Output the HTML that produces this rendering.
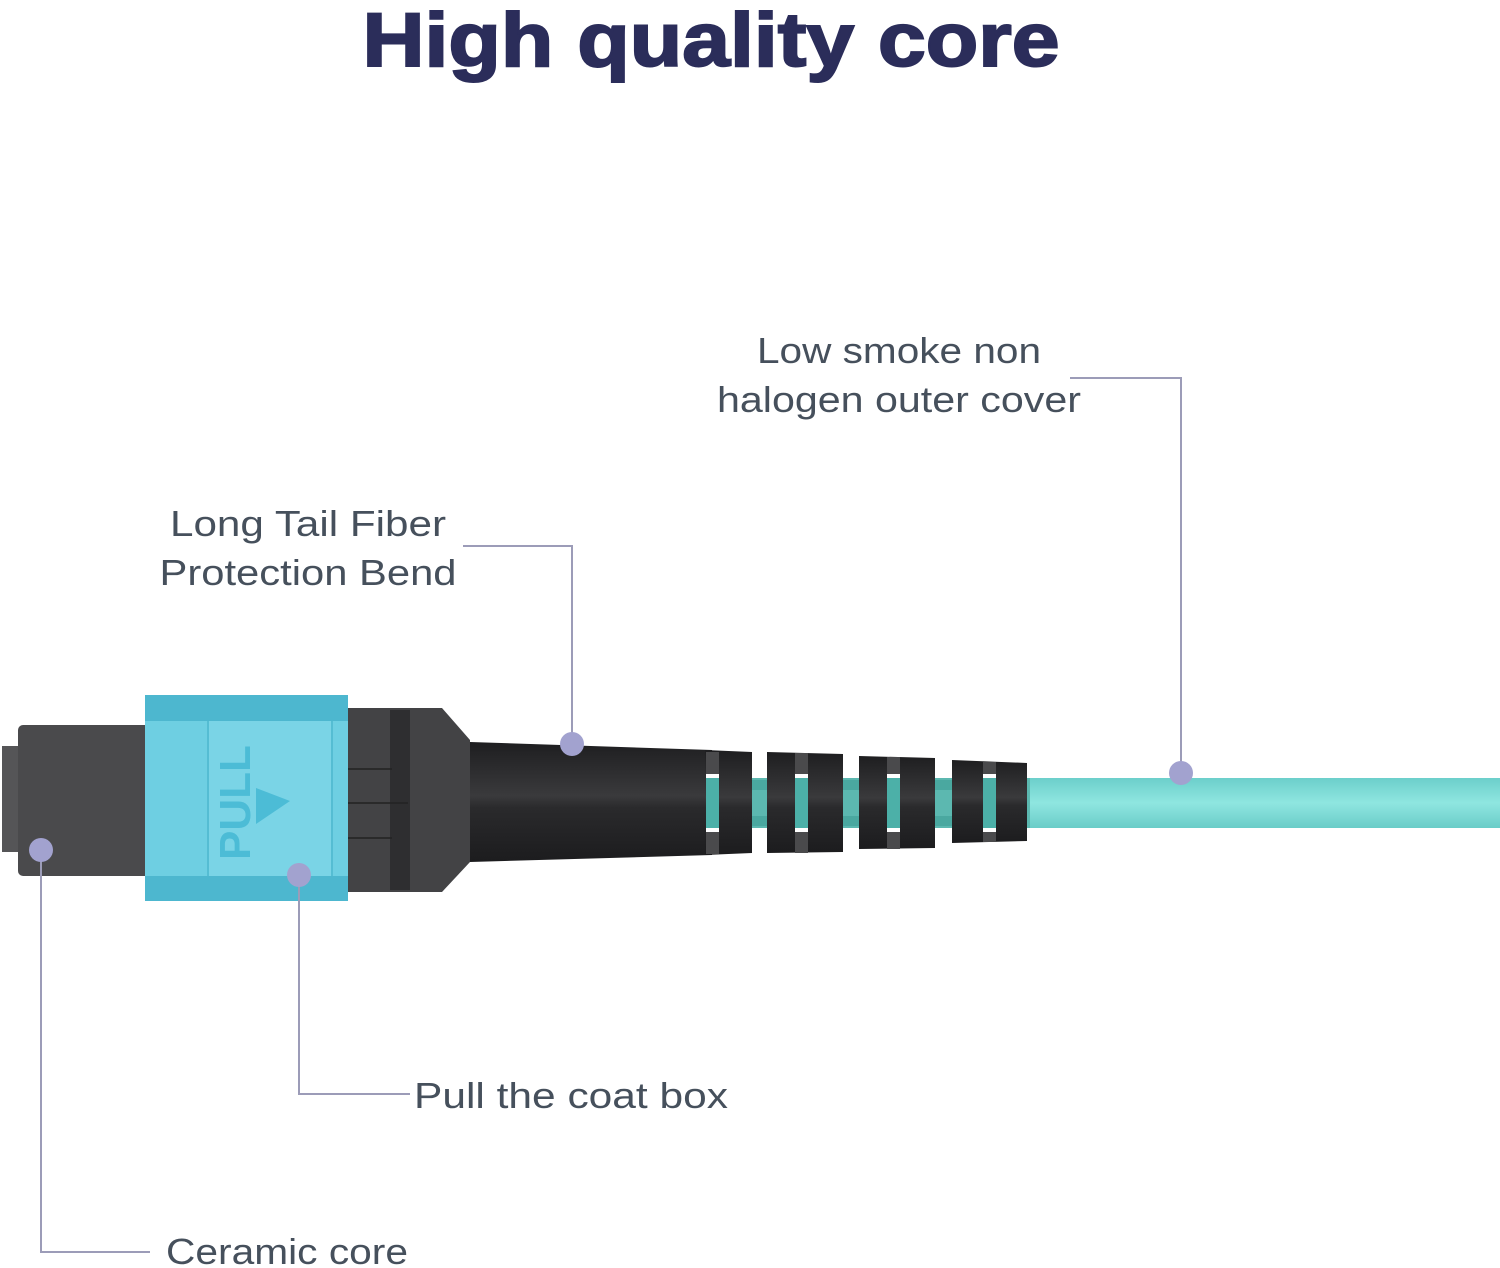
<!DOCTYPE html>
<html><head><meta charset="utf-8"><style>
html,body{margin:0;padding:0;background:#fff;}
svg{display:block;}
</style></head><body>
<svg width="1500" height="1268" viewBox="0 0 1500 1268" xmlns="http://www.w3.org/2000/svg">
<defs>
<linearGradient id="blk" x1="0" y1="0" x2="0" y2="1">
<stop offset="0" stop-color="#1e1e20"/><stop offset="0.45" stop-color="#3a3a3c"/><stop offset="0.55" stop-color="#2a2a2c"/><stop offset="1" stop-color="#1c1c1e"/>
</linearGradient>
<linearGradient id="cab" x1="0" y1="0" x2="0" y2="1">
<stop offset="0" stop-color="#6ccfcb"/><stop offset="0.5" stop-color="#8fe6e0"/><stop offset="1" stop-color="#6acdc8"/>
</linearGradient>
</defs>
<text x="711" y="66" text-anchor="middle" font-family="Liberation Sans, sans-serif" font-weight="900" font-size="76" fill="#2b2d5a" textLength="697" lengthAdjust="spacingAndGlyphs" stroke="#2b2d5a" stroke-width="2">High quality core</text>

<!-- cable -->
<rect x="1020" y="778" width="480" height="50" fill="url(#cab)"/>
<!-- boot inner cable -->
<rect x="700" y="778" width="330" height="50" fill="#5cb8b0"/>
<!-- boot main -->
<polygon points="470,742 712,750 712,855 470,862" fill="url(#blk)"/>
<polygon points="705,750 752,752 752,853 705,855" fill="url(#blk)"/>
<polygon points="767,752 843,754 843,852 767,853" fill="url(#blk)"/>
<polygon points="859,756 935,758 935,848 859,849" fill="url(#blk)"/>
<polygon points="952,760 1027,763 1027,841 952,843" fill="url(#blk)"/>
<rect x="752" y="780" width="15" height="10" fill="#4aa8a0"/><rect x="752" y="816" width="15" height="10" fill="#4aa8a0"/>
<rect x="843" y="780" width="16" height="10" fill="#4aa8a0"/><rect x="843" y="816" width="16" height="10" fill="#4aa8a0"/>
<rect x="935" y="780" width="17" height="10" fill="#4aa8a0"/><rect x="935" y="816" width="17" height="10" fill="#4aa8a0"/>
<g fill="#4a4a4c"><rect x="706" y="752" width="13" height="102"/><rect x="795" y="753" width="13" height="100"/><rect x="887" y="757" width="13" height="92"/><rect x="983" y="762" width="13" height="80"/></g>
<g fill="#4cb0a8"><rect x="706" y="778" width="13" height="50"/><rect x="795" y="778" width="13" height="50"/><rect x="887" y="778" width="13" height="50"/><rect x="983" y="778" width="13" height="50"/></g>
<g fill="#fff"><rect x="706" y="774" width="13" height="4"/><rect x="706" y="828" width="13" height="4"/><rect x="795" y="774" width="13" height="4"/><rect x="795" y="828" width="13" height="4"/><rect x="887" y="774" width="13" height="4"/><rect x="887" y="828" width="13" height="4"/><rect x="983" y="774" width="13" height="4"/><rect x="983" y="828" width="13" height="4"/></g>

<!-- rear housing -->
<path d="M348,708 L442,708 L470,740 L470,862 L442,892 L348,892 Z" fill="#434345"/>
<rect x="390" y="710" width="20" height="180" fill="#2e2e30"/>
<line x1="348" y1="769" x2="392" y2="769" stroke="#222" stroke-width="1.5"/>
<line x1="348" y1="803" x2="408" y2="803" stroke="#222" stroke-width="1.5"/>
<line x1="348" y1="838" x2="392" y2="838" stroke="#222" stroke-width="1.5"/>

<!-- front body -->
<rect x="2" y="746" width="20" height="106" fill="#555557"/>
<rect x="18" y="725" width="132" height="151" rx="5" fill="#4a4a4c"/>

<!-- blue sleeve -->
<rect x="145" y="695" width="203" height="206" fill="#6ecfe2"/>
<rect x="145" y="695" width="203" height="26" fill="#4db7cf"/>
<rect x="145" y="876" width="203" height="25" fill="#4db7cf"/>
<rect x="208" y="721" width="125" height="155" fill="#7ad4e6"/>
<line x1="208" y1="721" x2="208" y2="876" stroke="#55bdd3" stroke-width="2"/>
<line x1="332" y1="721" x2="332" y2="876" stroke="#55bdd3" stroke-width="2"/>
<text transform="translate(250,860) rotate(-90)" font-family="Liberation Sans, sans-serif" font-weight="bold" font-size="44" fill="#4cbcd6">PULL</text>
<polygon points="256,788 290,801 256,824" fill="#4cbcd6"/>

<!-- callouts -->
<g stroke="#9c9cb8" stroke-width="2" fill="none">
<polyline points="41,850 41,1252 150,1252"/>
<polyline points="299,875 299,1094 410,1094"/>
<polyline points="572,744 572,546 463,546"/>
<polyline points="1181,773 1181,378 1070,378"/>
</g>
<g fill="#a2a2cf">
<circle cx="41" cy="850" r="12"/><circle cx="299" cy="875" r="12"/><circle cx="572" cy="744" r="12"/><circle cx="1181" cy="773" r="12"/>
</g>

<g font-family="Liberation Sans, sans-serif" font-size="36" fill="#46505c">
<text x="899" y="363" text-anchor="middle" textLength="284" lengthAdjust="spacingAndGlyphs">Low smoke non</text>
<text x="899" y="412" text-anchor="middle" textLength="364" lengthAdjust="spacingAndGlyphs">halogen outer cover</text>
<text x="308" y="536" text-anchor="middle" textLength="276" lengthAdjust="spacingAndGlyphs">Long Tail Fiber</text>
<text x="308" y="585" text-anchor="middle" textLength="297" lengthAdjust="spacingAndGlyphs">Protection Bend</text>
<text x="414" y="1108" textLength="314" lengthAdjust="spacingAndGlyphs">Pull the coat box</text>
<text x="166" y="1264" textLength="242" lengthAdjust="spacingAndGlyphs">Ceramic core</text>
</g>
</svg>
</body></html>
